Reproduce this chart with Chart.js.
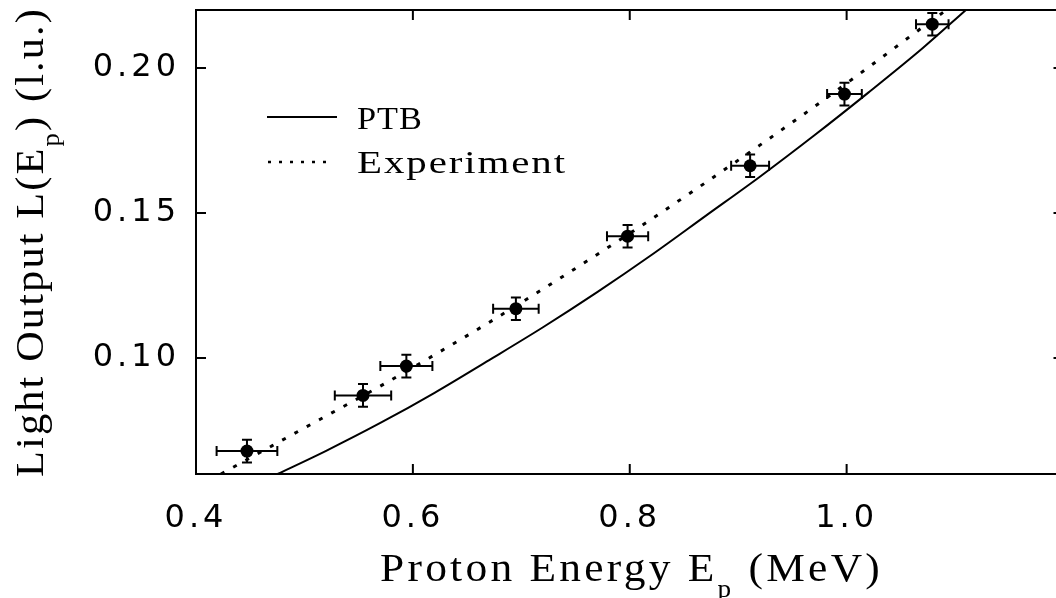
<!DOCTYPE html>
<html>
<head>
<meta charset="utf-8">
<script src="https://cdn.jsdelivr.net/npm/chart.js@4.4.1/dist/chart.umd.min.js"></script>
<style>
  html, body { margin: 0; padding: 0; background: #fff; overflow: hidden; }
  #wrap { position: relative; width: 1070px; height: 598px; }
</style>
</head>
<body>
<div id="wrap"><canvas id="lightChart"></canvas></div>
<script>
// measured points (proton energy in MeV, light output in l.u.)
const energy      = [0.447, 0.554, 0.594, 0.695, 0.798, 0.911, 0.998, 1.079];
const lightOutput = [0.0679, 0.0871, 0.0972, 0.1170, 0.1420, 0.1663, 0.1910, 0.2151];
const energyErr   = [0.028, 0.026, 0.024, 0.021, 0.019, 0.0175, 0.016, 0.015];
const lightErr    = [0.0039, 0.0039, 0.0039, 0.0039, 0.0039, 0.0039, 0.0039, 0.0039];

// PTB curve (solid)
const ptbEnergy = [0.4753, 0.52, 0.57, 0.62, 0.67, 0.72, 0.77, 0.82, 0.87, 0.92, 0.97, 1.02, 1.07, 1.11];
const ptbLight  = [0.0600, 0.0680, 0.0776, 0.0880, 0.0992, 0.1106, 0.1227, 0.1355, 0.1490, 0.1625, 0.1767, 0.1915, 0.2068, 0.2200];

// Experiment fit (dotted)
const expEnergy = [0.423, 0.47, 0.52, 0.57, 0.62, 0.67, 0.72, 0.77, 0.82, 0.87, 0.92, 0.97, 1.02, 1.06, 1.092];
const expLight  = [0.0600, 0.0697, 0.0800, 0.0903, 0.1011, 0.1122, 0.1238, 0.1357, 0.1479, 0.1605, 0.1734, 0.1866, 0.2002, 0.2113, 0.2200];

const xTicks = [0.4, 0.6, 0.8, 1.0];
const yTicks = [0.10, 0.15, 0.20];

const toXY = (xs, ys) => xs.map((x, i) => ({ x: x, y: ys[i] }));

// draws a label made of [text, isSubscript] parts, spaced out and fitted to a given width
function drawLabel(ctx, parts, x, y, size, width, spacing) {
    const font = s => s + 'px "Liberation Serif"';
    const subSize = Math.round(size * 0.62);
    ctx.letterSpacing = spacing + 'px';
    let natural = 0;
    parts.forEach(p => {
        ctx.font = font(p[1] ? subSize : size);
        natural += ctx.measureText(p[0]).width;
    });
    ctx.save();
    ctx.translate(x, y);
    ctx.scale(width / natural, 1);
    let cx = 0;
    parts.forEach(p => {
        ctx.font = font(p[1] ? subSize : size);
        ctx.fillText(p[0], cx, p[1] ? size * 0.4 : 0);
        cx += ctx.measureText(p[0]).width;
    });
    ctx.restore();
    ctx.letterSpacing = '0px';
}

const errorBars = {
    id: 'errorBars',
    afterDatasetsDraw(chart) {
        const { ctx, scales: { x, y } } = chart;
        ctx.save();
        ctx.strokeStyle = '#000';
        ctx.lineWidth = 2;
        ctx.beginPath();
        energy.forEach((e, i) => {
            const px = x.getPixelForValue(e);
            const py = y.getPixelForValue(lightOutput[i]);
            const x0 = x.getPixelForValue(e - energyErr[i]);
            const x1 = x.getPixelForValue(e + energyErr[i]);
            const y0 = y.getPixelForValue(lightOutput[i] - lightErr[i]);
            const y1 = y.getPixelForValue(lightOutput[i] + lightErr[i]);
            ctx.moveTo(x0, py); ctx.lineTo(x1, py);
            ctx.moveTo(x0, py - 5); ctx.lineTo(x0, py + 5);
            ctx.moveTo(x1, py - 5); ctx.lineTo(x1, py + 5);
            ctx.moveTo(px, y0); ctx.lineTo(px, y1);
            ctx.moveTo(px - 5, y0); ctx.lineTo(px + 5, y0);
            ctx.moveTo(px - 5, y1); ctx.lineTo(px + 5, y1);
        });
        ctx.stroke();
        ctx.restore();
    }
};

const frame = {
    id: 'frame',
    beforeDraw(chart) {
        chart.ctx.letterSpacing = '4px';
    },
    afterDraw(chart) {
        const { ctx, chartArea: a, scales: { x, y } } = chart;
        ctx.save();
        ctx.letterSpacing = '0px';
        ctx.strokeStyle = '#000';
        ctx.fillStyle = '#000';
        ctx.lineWidth = 2;
        ctx.strokeRect(a.left, a.top, a.right - a.left, a.bottom - a.top);

        // inward tick marks on all four sides
        ctx.beginPath();
        x.ticks.forEach(t => {
            const px = x.getPixelForValue(t.value);
            if (px <= a.left + 1) return;
            ctx.moveTo(px, a.bottom); ctx.lineTo(px, a.bottom - 10);
            ctx.moveTo(px, a.top); ctx.lineTo(px, a.top + 10);
        });
        y.ticks.forEach(t => {
            const py = y.getPixelForValue(t.value);
            ctx.moveTo(a.left, py); ctx.lineTo(a.left + 10, py);
            ctx.moveTo(a.right, py); ctx.lineTo(a.right - 10, py);
        });
        ctx.stroke();

        // legend
        ctx.lineWidth = 2;
        ctx.beginPath();
        ctx.moveTo(267, 117); ctx.lineTo(337, 117);
        ctx.stroke();
        ctx.setLineDash([3, 8]);
        ctx.lineWidth = 2.5;
        ctx.beginPath();
        ctx.moveTo(268, 162); ctx.lineTo(334, 162);
        ctx.stroke();
        ctx.setLineDash([]);
        ctx.textBaseline = 'alphabetic';
        ctx.textAlign = 'left';
        drawLabel(ctx, [['PTB', false]], 357, 129, 32, 66, 1);
        drawLabel(ctx, [['Experiment', false]], 357, 173, 32, 210, 1.5);

        // axis titles
        drawLabel(ctx, [['Proton Energy E', false], ['p', true], [' (MeV)', false]], 380, 581, 40, 503, 3);
        ctx.save();
        ctx.translate(43, 477);
        ctx.rotate(-Math.PI / 2);
        drawLabel(ctx, [['Light Output L(E', false], ['p', true], [') (l.u.)', false]], 0, 0, 40, 470, 2);
        ctx.restore();

        ctx.restore();
    }
};

const ctx = document.getElementById('lightChart').getContext('2d');
new Chart(ctx, {
    type: 'scatter',
    data: {
        datasets: [{
            label: 'PTB',
            data: toXY(ptbEnergy, ptbLight),
            showLine: true,
            borderColor: '#000',
            borderWidth: 2,
            pointRadius: 0,
            cubicInterpolationMode: 'monotone'
        }, {
            label: 'Experiment',
            data: toXY(expEnergy, expLight),
            showLine: true,
            borderColor: '#000',
            borderWidth: 3,
            borderDash: [4, 10],
            pointRadius: 0,
            cubicInterpolationMode: 'monotone'
        }, {
            label: 'Data',
            data: toXY(energy, lightOutput),
            showLine: false,
            pointRadius: 6.5,
            pointBorderWidth: 0,
            backgroundColor: '#000',
            borderColor: '#000'
        }]
    },
    options: {
        responsive: true,
        maintainAspectRatio: false,
        animation: false,
        layout: { padding: { left: 0, top: 10, right: 6, bottom: 0 } },
        plugins: { legend: { display: false }, tooltip: { enabled: false } },
        scales: {
            x: {
                type: 'linear',
                min: 0.4,
                max: 1.2,
                afterBuildTicks: s => { s.ticks = xTicks.map(v => ({ value: v })); },
                afterFit: s => { s.height = 124; s.paddingLeft = 0; s.paddingRight = 0; },
                grid: { display: false, drawTicks: false },
                border: { display: false },
                ticks: {
                    padding: 25,
                    color: '#000',
                    maxRotation: 0,
                    autoSkip: false,
                    font: { family: 'DejaVu Sans', size: 32 },
                    callback: v => v.toFixed(1)
                }
            },
            y: {
                type: 'linear',
                min: 0.06,
                max: 0.22,
                afterBuildTicks: s => { s.ticks = yTicks.map(v => ({ value: v })); },
                afterFit: s => { s.width = 196; s.paddingTop = 0; s.paddingBottom = 0; },
                grid: { display: false, drawTicks: false },
                border: { display: false },
                ticks: {
                    padding: 16,
                    color: '#000',
                    autoSkip: false,
                    font: { family: 'DejaVu Sans', size: 32 },
                    callback: v => v.toFixed(2)
                }
            }
        }
    },
    plugins: [errorBars, frame]
});
</script>
</body>
</html>
